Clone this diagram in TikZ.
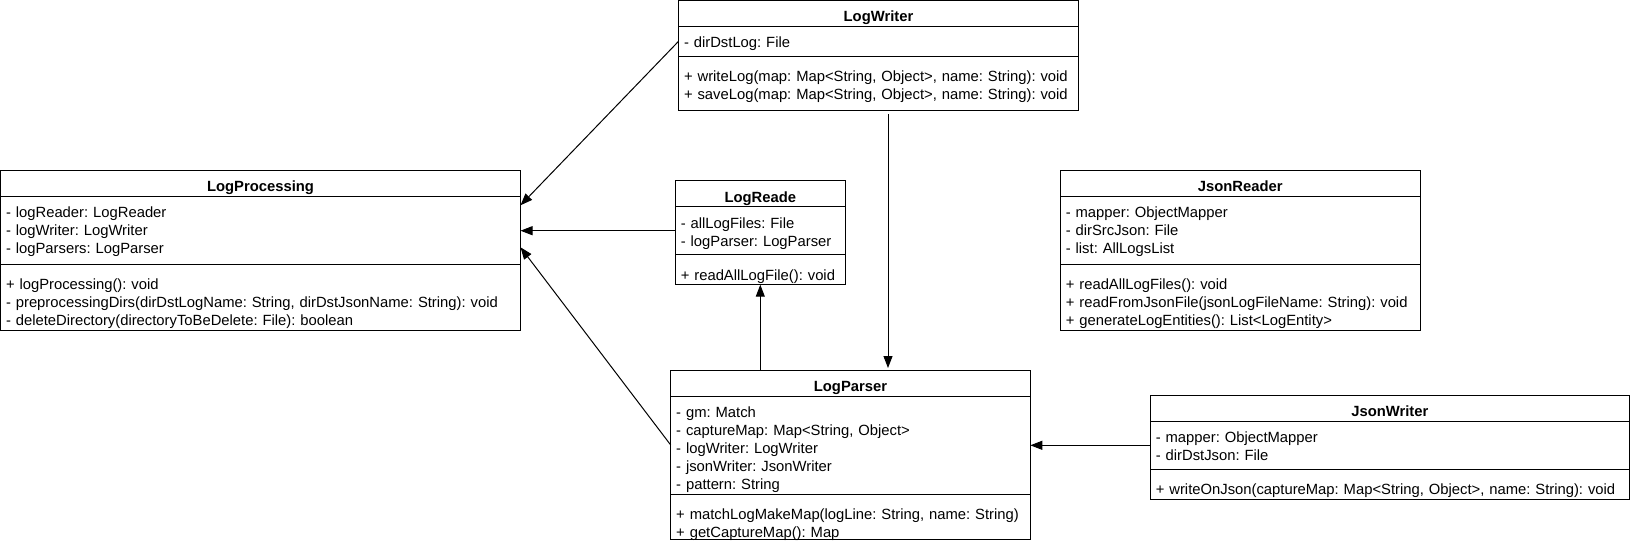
\documentclass[tikz,border=0pt]{standalone}
\usepackage{fontspec}
\setmainfont{Liberation Sans}
\usetikzlibrary{arrows.meta, positioning}

\begin{document}
\begin{tikzpicture}[x=1pt, y=-1pt, line width=1pt,
  font=\fontsize{14.8}{18}\selectfont\frenchspacing,
  box/.style={rectangle, draw, outer sep=0pt, inner xsep=5.5pt, inner ysep=0pt, text width=#1},
  ttl/.style={box=#1, align=center, text height=21.3pt, text depth=4.7pt,
              font=\fontsize{14.8}{18}\selectfont\bfseries},
  attr/.style={box=#1, align=left, text height=21.3pt},
  meth/.style={box=#1, align=left, text height=25.3pt},
  a/.style={-{Triangle[length=12pt, width=9pt]}}]
  \useasboundingbox (0,0) rectangle (1631,544);

  % LogProcessing
  \node[ttl=509pt, anchor=north west] (lpTitle) at (0.5,170.3) {LogProcessing};
  \node[attr=509pt, text depth=46.7pt, below=0pt of lpTitle] (lpAttr)
    {- logReader: LogReader\\- logWriter: LogWriter\\- logParsers: LogParser};
  \node[meth=509pt, text depth=40.4pt, below=0pt of lpAttr] (lpMeth)
    {+ logProcessing(): void\\- preprocessingDirs(dirDstLogName: String, dirDstJsonName: String): void\\- deleteDirectory(directoryToBeDelete: File): boolean};

  % LogWriter
  \node[ttl=389pt, anchor=north west] (lwTitle) at (678.5,0.5) {LogWriter};
  \node[attr=389pt, text depth=8.4pt, below=0pt of lwTitle] (lwAttr)
    {- dirDstLog: File};
  \node[meth=389pt, text depth=28.7pt, below=0pt of lwAttr] (lwMeth)
    {+ writeLog(map: Map<String, Object>, name: String): void\\+ saveLog(map: Map<String, Object>, name: String): void};

  % LogReade
  \node[ttl=159pt, anchor=north west] (lrTitle) at (675.3,180.7) {LogReade};
  \node[attr=159pt, text depth=26.7pt, below=0pt of lrTitle] (lrAttr)
    {- allLogFiles: File\\- logParser: LogParser};
  \node[meth=159pt, text depth=4.7pt, below=0pt of lrAttr] (lrMeth)
    {+ readAllLogFile(): void};

  % JsonReader
  \node[ttl=349pt, anchor=north west] (jrTitle) at (1060.3,170.3) {JsonReader};
  \node[attr=349pt, text depth=47pt, below=0pt of jrTitle] (jrAttr)
    {- mapper: ObjectMapper\\- dirSrcJson: File\\- list: AllLogsList};
  \node[meth=349pt, text depth=40.7pt, below=0pt of jrAttr] (jrMeth)
    {+ readAllLogFiles(): void\\+ readFromJsonFile(jsonLogFileName: String): void\\+ generateLogEntities(): List<LogEntity>};

  % LogParser
  \node[ttl=348.6pt, anchor=north west] (lpsTitle) at (670.7,370) {LogParser};
  \node[attr=348.6pt, text depth=76.7pt, below=0pt of lpsTitle] (lpsAttr)
    {- gm: Match\\- captureMap: Map<String, Object>\\- logWriter: LogWriter\\- jsonWriter: JsonWriter\\- pattern: String};
  \node[meth=348.6pt, text depth=20.4pt, below=0pt of lpsAttr] (lpsMeth)
    {+ matchLogMakeMap(logLine: String, name: String)\\+ getCaptureMap(): Map};

  % JsonWriter
  \node[ttl=468pt, anchor=north west] (jwTitle) at (1150.3,395.3) {JsonWriter};
  \node[attr=468pt, text depth=26.7pt, below=0pt of jwTitle] (jwAttr)
    {- mapper: ObjectMapper\\- dirDstJson: File};
  \node[meth=468pt, text depth=4.4pt, below=0pt of jwAttr] (jwMeth)
    {+ writeOnJson(captureMap: Map<String, Object>, name: String): void};

  \draw[a] (lwAttr.west) -- ([yshift=25pt]lpAttr.east);
  \draw[a] (lrAttr.west) -- (lrAttr.west -| lpAttr.east);
  \draw[a] (lpsAttr.west) -- ([yshift=-17pt]lpAttr.east);
  \draw[a] (lrMeth.south |- lpsTitle.north) -- (lrMeth.south);
  \draw[a, shorten <=4pt, shorten >=2pt] ([xshift=9.5pt]lwMeth.south) -- ([xshift=9.5pt]lwMeth.south |- lpsTitle.north);
  \draw[a] (jwAttr.west) -- (jwAttr.west -| lpsAttr.east);
\end{tikzpicture}
\end{document}
